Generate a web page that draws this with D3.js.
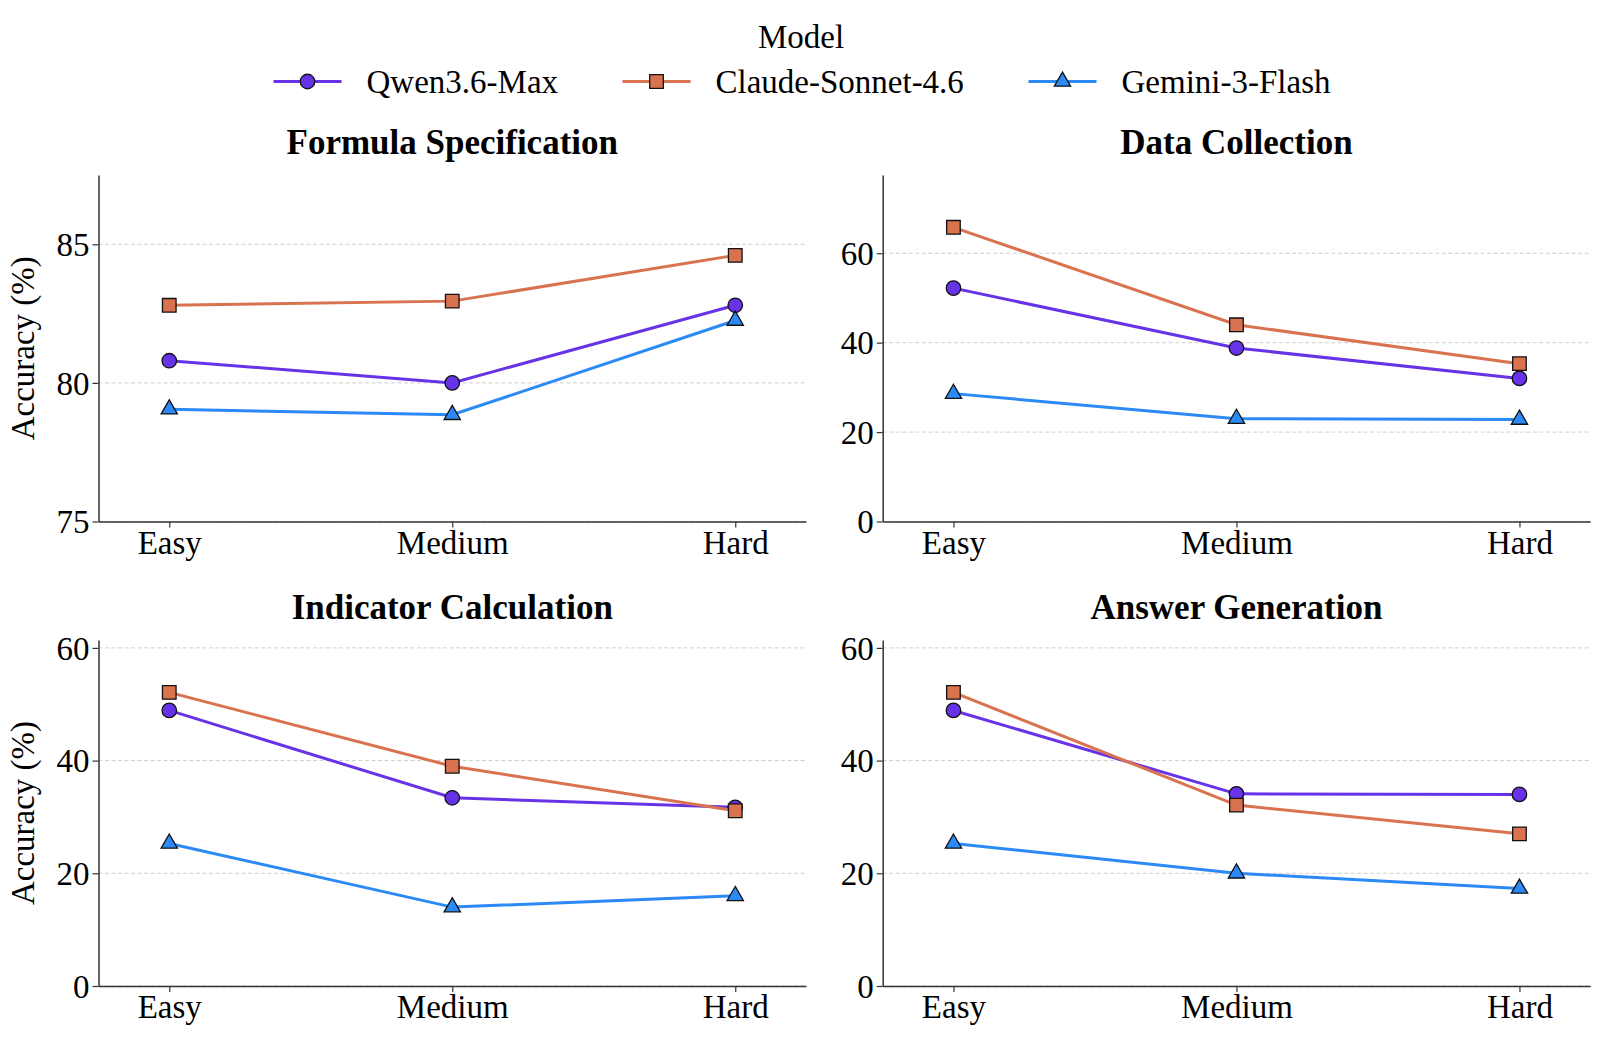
<!DOCTYPE html>
<html>
<head>
<meta charset="utf-8">
<script src="https://cdn.jsdelivr.net/npm/d3@7"></script>
<style>
  body { margin: 0; background: #fff; }
  text { font-family: "Liberation Serif", "Times New Roman", serif; fill: #000; }
</style>
</head>
<body>
<div class="canvas"></div>
<script>
// data
const levels = ['Easy', 'Medium', 'Hard'];
const models = ['Qwen3.6-Max', 'Claude-Sonnet-4.6', 'Gemini-3-Flash'];
const panels = ['Formula Specification', 'Data Collection', 'Indicator Calculation', 'Answer Generation'];

const qwenVals   = [[80.8, 80.0, 82.8], [52.2, 38.8, 32.0], [48.9, 33.4, 31.7], [48.9, 34.1, 34.0]];
const claudeVals = [[82.8, 82.95, 84.6], [65.8, 44.0, 35.3], [52.1, 39.0, 31.1], [52.1, 32.1, 27.0]];
const geminiVals = [[79.05, 78.85, 82.25], [28.6, 23.0, 22.8], [25.3, 14.0, 16.0], [25.3, 20.0, 17.3]];

const yDomains = [[75, 87.5], [0, 77.5], [0, 61.4], [0, 61.4]];
const yTicks = [[75, 80, 85], [0, 20, 40, 60], [0, 20, 40, 60], [0, 20, 40, 60]];

const seriesVals = [qwenVals, claudeVals, geminiVals];
const colors = ['#6633e6', '#d9734f', '#2b8af5'];
const shapes = [d3.symbolCircle, d3.symbolSquare, d3.symbolTriangle];
const sizes = [165, 185, 115];

const dims = { width: 1600, height: 1037 };
const svg = d3.select('.canvas')
  .append('svg')
  .attr('width', dims.width)
  .attr('height', dims.height);

// panel frames: left, top, width, height
const frames = [
  { x: 98.5, y: 175, w: 707.5, h: 346.5 },
  { x: 882.7, y: 175, w: 707.5, h: 346.5 },
  { x: 98.5, y: 640, w: 707.5, h: 346 },
  { x: 882.7, y: 640, w: 707.5, h: 346 }
];

frames.forEach((f, p) => {
  const g = svg.append('g').attr('transform', `translate(${f.x}, ${f.y})`);

  const x = d3.scalePoint().domain(levels).range([0, f.w]).padding(0.25);
  const y = d3.scaleLinear().domain(yDomains[p]).range([f.h, 0]);

  // grid
  g.append('g')
    .selectAll('line')
    .data(yTicks[p])
    .enter()
    .append('line')
    .attr('x1', 0).attr('x2', f.w)
    .attr('y1', d => y(d)).attr('y2', d => y(d))
    .attr('stroke', '#cfcfcf')
    .attr('stroke-width', 1)
    .attr('stroke-dasharray', '4,2.5');

  // axes
  const xAxis = g.append('g')
    .attr('transform', `translate(0, ${f.h})`)
    .call(d3.axisBottom(x).tickSize(6).tickSizeOuter(0));
  xAxis.selectAll('text').attr('font-size', 33);

  const yAxis = g.append('g')
    .call(d3.axisLeft(y).tickValues(yTicks[p]).tickSize(6).tickSizeOuter(0));
  yAxis.selectAll('text').attr('font-size', 33).attr('dy', '0.34em');

  [xAxis, yAxis].forEach(a => {
    a.select('.domain').attr('stroke', '#333').attr('stroke-width', 1.5);
    a.selectAll('.tick line').attr('stroke', '#333').attr('stroke-width', 1.2);
    a.attr('font-family', null);
  });

  // title
  g.append('text')
    .attr('x', f.w / 2)
    .attr('y', -21)
    .attr('text-anchor', 'middle')
    .attr('font-size', 35)
    .attr('font-weight', 'bold')
    .text(panels[p]);

  if (p % 2 === 0) {
    g.append('text')
      .attr('transform', `translate(${-65}, ${f.h / 2}) rotate(-90)`)
      .attr('text-anchor', 'middle')
      .attr('font-size', 33)
      .text('Accuracy (%)');
  }

  const line = d3.line().x((d, i) => x(levels[i])).y(d => y(d));

  seriesVals.forEach((vals, s) => {
    g.append('path')
      .attr('d', line(vals[p]))
      .attr('fill', 'none')
      .attr('stroke', colors[s])
      .attr('stroke-width', 3);

    g.append('g')
      .selectAll('path')
      .data(vals[p])
      .enter()
      .append('path')
      .attr('transform', (d, i) => `translate(${x(levels[i])}, ${y(d)})`)
      .attr('d', d3.symbol().type(shapes[s]).size(sizes[s]))
      .attr('fill', colors[s])
      .attr('stroke', '#111')
      .attr('stroke-width', 1.3);
  });
});

// legend
const legend = svg.append('g');
legend.append('text')
  .attr('x', 801).attr('y', 48)
  .attr('text-anchor', 'middle')
  .attr('font-size', 33)
  .text('Model');

const legendX = [273.5, 622.5, 1028.5];
models.forEach((m, s) => {
  const lg = legend.append('g').attr('transform', `translate(${legendX[s]}, 81.5)`);
  lg.append('line')
    .attr('x1', 0).attr('x2', 68)
    .attr('stroke', colors[s]).attr('stroke-width', 3);
  lg.append('path')
    .attr('transform', 'translate(34, 0)')
    .attr('d', d3.symbol().type(shapes[s]).size(sizes[s]))
    .attr('fill', colors[s])
    .attr('stroke', '#111')
    .attr('stroke-width', 1.3);
  lg.append('text')
    .attr('x', 93).attr('y', 0).attr('dy', '0.34em')
    .attr('font-size', 33)
    .text(m);
});
</script>
</body>
</html>
